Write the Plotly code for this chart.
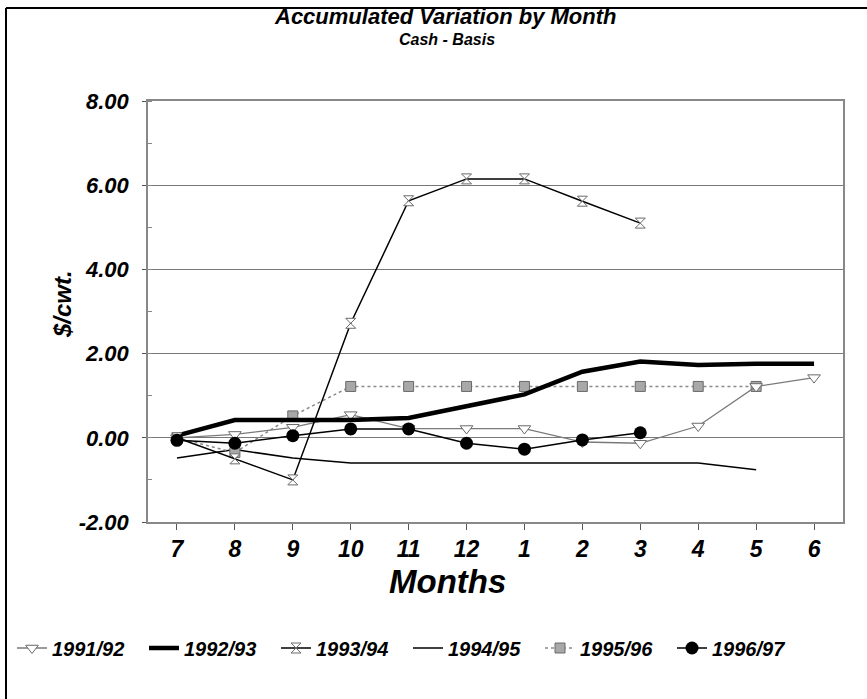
import plotly.graph_objects as go

months = ["7", "8", "9", "10", "11", "12", "1", "2", "3", "4", "5", "6"]
y_ticks = [-2, 0, 2, 4, 6, 8]
y_tick_labels = ["-2.00", "0.00", "2.00", "4.00", "6.00", "8.00"]

s9192 = [0.0, 0.08, 0.25, 0.55, 0.22, 0.22, 0.22, -0.10, -0.13, 0.28, 1.22, 1.43]
s9293 = [0.05, 0.42, 0.42, 0.42, 0.47, 0.76, 1.03, 1.57, 1.81, 1.73, 1.76, 1.76]
s9394 = [0.0, -0.50, -1.00, 2.72, 5.63, 6.15, 6.15, 5.62, 5.10, None, None, None]
s9495 = [-0.48, -0.28, -0.48, -0.60, -0.60, -0.60, -0.60, -0.60, -0.60, -0.60, -0.76, None]
s9596 = [0.0, -0.35, 0.52, 1.22, 1.22, 1.22, 1.22, 1.22, 1.22, 1.22, 1.22, None]
s9697 = [-0.06, -0.13, 0.05, 0.21, 0.21, -0.13, -0.27, -0.05, 0.12, None, None, None]

FONT = "Liberation Sans"
fig = go.Figure()

fig.add_trace(go.Scatter(x=months, y=s9495, name="1994/95", mode="lines",
                         line=dict(color="black", width=1.5)))
fig.add_trace(go.Scatter(x=months, y=s9596, name="1995/96", mode="lines+markers",
                         line=dict(color="#8a8a8a", width=1.5, dash="dot"),
                         marker=dict(symbol="square", size=10, color="#a8a8a8",
                                     line=dict(color="#6a6a6a", width=1))))
fig.add_trace(go.Scatter(x=months, y=s9192, name="1991/92", mode="lines+markers",
                         line=dict(color="#7a7a7a", width=1.3),
                         marker=dict(symbol="triangle-down", size=11, color="white",
                                     line=dict(color="#6a6a6a", width=1))))
fig.add_trace(go.Scatter(x=months, y=s9293, name="1992/93", mode="lines",
                         line=dict(color="black", width=4.5)))
fig.add_trace(go.Scatter(x=months, y=s9394, name="1993/94", mode="lines+markers",
                         line=dict(color="black", width=1.5),
                         marker=dict(symbol="hourglass", size=10, color="white",
                                     line=dict(color="#6a6a6a", width=1))))
fig.add_trace(go.Scatter(x=months, y=s9697, name="1996/97", mode="lines+markers",
                         line=dict(color="black", width=1.5),
                         marker=dict(symbol="circle", size=13, color="black")))

order = {"1991/92": 1, "1992/93": 2, "1993/94": 3, "1994/95": 4, "1995/96": 5, "1996/97": 6}
for tr in fig.data:
    tr.legendrank = order[tr.name]

L, R, T, B = 148, 24, 101, 177
W, H = 867, 699
pw, ph = W - L - R, H - T - B

def px_x(x):
    return (x - L) / pw

def px_y(y):
    return (H - B - y) / ph

fig.update_layout(
    width=W, height=H,
    margin=dict(l=L, r=R, t=T, b=B, autoexpand=False),
    paper_bgcolor="white", plot_bgcolor="white",
    font=dict(family=FONT, color="black"),
    showlegend=True,
    legend=dict(orientation="h", x=px_x(12), xanchor="left", y=px_y(648), yanchor="middle",
                font=dict(family=FONT, size=20, color="black", weight="bold", style="italic"),
                entrywidth=87, itemwidth=30, tracegroupgap=0, bgcolor="rgba(0,0,0,0)"),
    annotations=[
        dict(text="<b><i>Accumulated Variation by Month</i></b>", x=px_x(445), y=px_y(16),
             xref="paper", yref="paper", showarrow=False, xanchor="center", yanchor="middle",
             font=dict(family=FONT, size=22, color="black")),
        dict(text="<b><i>Cash - Basis</i></b>", x=px_x(447), y=px_y(40),
             xref="paper", yref="paper", showarrow=False, xanchor="center", yanchor="middle",
             font=dict(family=FONT, size=16, color="black")),
        dict(text="<b><i>Months</i></b>", x=px_x(447), y=px_y(581),
             xref="paper", yref="paper", showarrow=False, xanchor="center", yanchor="middle",
             font=dict(family=FONT, size=33, color="black")),
        dict(text="<b><i>$/cwt.</i></b>", x=px_x(62), y=px_y(304), textangle=-90,
             xref="paper", yref="paper", showarrow=False, xanchor="center", yanchor="middle",
             font=dict(family=FONT, size=24, color="black")),
    ],
    shapes=[
        dict(type="line", xref="paper", yref="paper", x0=px_x(6), x1=px_x(867),
             y0=px_y(8), y1=px_y(8), line=dict(color="black", width=2)),
        dict(type="line", xref="paper", yref="paper", x0=px_x(6), x1=px_x(6),
             y0=px_y(8), y1=px_y(699), line=dict(color="black", width=2)),
    ],
)

fig.update_xaxes(
    type="category", categoryorder="array", categoryarray=months,
    range=[-0.5, 11.5], showgrid=False, zeroline=False, automargin=False,
    showline=True, linecolor="#888", linewidth=1.5, mirror=True,
    ticks="outside", ticklen=6, tickcolor="#555", tickwidth=1,
    tickfont=dict(family=FONT, size=23, color="black", weight="bold", style="italic"),
    ticklabelstandoff=0,
)
fig.update_yaxes(
    range=[-2, 8], tickvals=y_ticks, ticktext=y_tick_labels, automargin=False,
    showgrid=True, gridcolor="#777", gridwidth=1, zeroline=False,
    showline=True, linecolor="#888", linewidth=1.5, mirror=True,
    ticks="outside", ticklen=4, tickcolor="#555",
    minor=dict(dtick=1, tick0=-1, ticks="inside", ticklen=4, tickcolor="#888", showgrid=False),
    tickfont=dict(family=FONT, size=22, color="black", weight="bold", style="italic"),
    ticklabelstandoff=9,
)

fig.write_html("out.html", config={"displayModeBar": False},
               post_script="document.body.style.margin='0';document.body.style.overflow='hidden';")
